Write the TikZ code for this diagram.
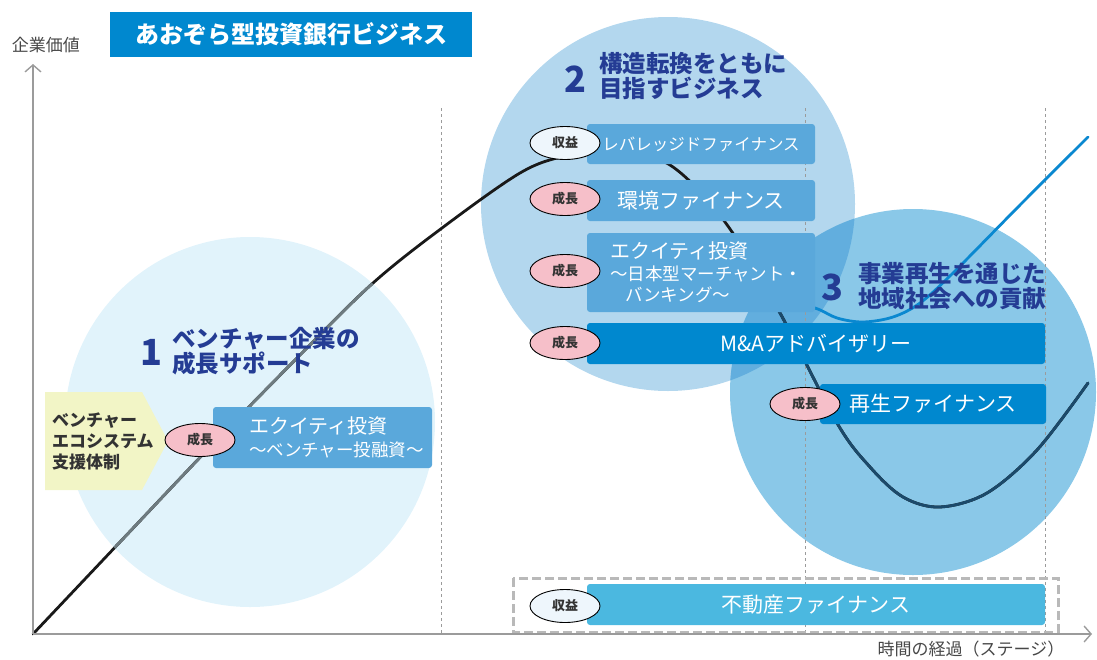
\documentclass[tikz,border=0pt]{standalone}
\usepackage{fontspec}
\setmainfont{Noto Sans CJK JP}
\usetikzlibrary{arrows.meta,shapes.geometric,positioning}

\definecolor{circleone}{HTML}{E1F3FB}
\definecolor{circletwo}{HTML}{B3D7EE}
\definecolor{circlethree}{HTML}{8AC8E8}
\definecolor{circleoverlap}{HTML}{62AEDE}
\definecolor{boxmid}{HTML}{5AA8DB}
\definecolor{boxdark}{HTML}{0088CF}
\definecolor{boxcyan}{HTML}{4BB8E0}
\definecolor{headnavy}{HTML}{243C94}
\definecolor{tagpink}{HTML}{F6BFC9}
\definecolor{tagpale}{HTML}{EEF6FC}
\definecolor{tagyellow}{HTML}{F2F5C6}
\definecolor{axisgray}{HTML}{9B9B9B}
\definecolor{curvegray}{HTML}{6E7B80}
\definecolor{curvenavy}{HTML}{1B4A6B}
\definecolor{curveblue}{HTML}{0A88D0}
\definecolor{textdark}{HTML}{333333}

\tikzset{
  box/.style={rounded corners=3pt, inner sep=0pt, text=white},
  boxtext/.style={text=white, inner sep=0pt, anchor=west, align=left},
  tag/.style={ellipse, draw=black, line width=0.9pt, minimum width=70pt, minimum height=33pt, inner sep=0pt, text=textdark, font=\fontsize{13}{13}\selectfont\bfseries},
  heading/.style={text=headnavy, inner sep=0pt, anchor=west, align=left, font=\fontsize{23.5}{25.5}\selectfont\bfseries},
  bignum/.style={text=headnavy, inner sep=0pt, font=\fontsize{36}{36}\selectfont\bfseries},
  stage/.style={dashed, axisgray, line width=0.8pt},
  axis/.style={axisgray, line width=1.6pt, -{Straight Barb[length=7pt,width=16pt,line width=1.4pt]}},
  curve/.style={line width=2.8pt, line cap=round},
}

\newcommand{\valuecurve}{plot[smooth, tension=0.55] coordinates {(33,634) (120,542) (210,447) (300,355) (373,283) (442,228) (520,173) (565,156) (612,150) (670,165) (725,222) (780,313) (837,423) (870,467) (903,497) (940,507) (987,493) (1037,450) (1088,383)}}

\begin{document}
\begin{tikzpicture}[x=1pt, y=-1pt]
\useasboundingbox (0,0) rectangle (1097,659);

\fill[circleone] (250,422) circle (185pt);
\fill[circletwo] (668,204) circle (187pt);
\fill[circlethree] (913,392) circle (183pt);
\begin{scope}
  \clip (668,204) circle (187pt);
  \fill[circleoverlap] (913,392) circle (183pt);
\end{scope}

\draw[stage] (441,108) -- (441,634);
\draw[stage] (805,108) -- (805,634);
\draw[stage] (1045,108) -- (1045,634);

\draw[curve, black!90] \valuecurve;
\begin{scope}
  \clip (250,422) circle (185pt);
  \draw[curve, curvegray] \valuecurve;
\end{scope}
\begin{scope}
  \clip (913,392) circle (183pt);
  \draw[curve, curvenavy] \valuecurve;
\end{scope}
\draw[curve, curveblue] plot[smooth, tension=0.55] coordinates {(775,298) (815,308) (837,318) (863,322) (893,317) (920,303) (953,273) (1020,205) (1088,137)};

\draw[line width=3pt, axisgray!70, dash pattern=on 9pt off 4pt] (513,578) rectangle (1058,632);

\coordinate (origin) at (33,634);
\coordinate (ytip) at (33,64);
\coordinate (xtip) at (1092,634);
\draw[axis] (origin) -- (ytip);
\draw[axis] (origin) -- (xtip);
\node[text=textdark!90, inner sep=0pt, font=\fontsize{17}{17}\selectfont] (yname) at (46,45) {企業価値};
\node[text=textdark!90, inner sep=0pt, font=\fontsize{17}{17}\selectfont] (xname) at (971,649) {時間の経過（ステージ）};

\node[fill=boxdark, text=white, minimum width=362pt, minimum height=45pt, inner sep=0pt, font=\fontsize{24}{24}\selectfont\bfseries] (title) at (291,34.5) {あおぞら型投資銀行ビジネス};

\node[bignum] (numone) at (151,352) {1};
\node[heading] (headone) at (172,351) {ベンチャー企業の\\成長サポート};
\node[bignum] (numtwo) at (575,79) {2};
\node[heading] (headtwo) at (599,76) {構造転換をともに\\目指すビジネス};
\node[bignum] (numthree) at (832,287) {3};
\node[heading] (headthree) at (858,286) {事業再生を通じた\\地域社会への貢献};

\fill[tagyellow] (45,392) -- (142,392) -- (168,441) -- (142,490) -- (45,490) -- cycle;
\node[text=textdark, inner sep=0pt, anchor=west, align=left, font=\fontsize{17}{21}\selectfont\bfseries] (ecosystem) at (52,441) {ベンチャー\\エコシステム\\支援体制};

\node[box, fill=boxmid, minimum width=219pt, minimum height=61pt] (eqone) at (322.5,437.5) {};
\node[boxtext, right=36pt of eqone.west] (eqonetext) {{\fontsize{20}{20}\selectfont エクイティ投資}\\[6pt]{\fontsize{17.5}{20}\selectfont ～ベンチャー投融資～}};
\node[tag, fill=tagpink] (tagone) at (200,440) {成長};

\node[box, fill=boxmid, minimum width=228pt, minimum height=40pt, font=\fontsize{16.5}{16.5}\selectfont] (lev) at (701,144) {レバレッジドファイナンス};
\node[box, fill=boxmid, minimum width=228pt, minimum height=41pt, font=\fontsize{21}{21}\selectfont] (env) at (701,200.5) {環境ファイナンス};
\node[box, fill=boxmid, minimum width=228pt, minimum height=79pt] (eqtwo) at (701,272.5) {};
\node[boxtext, right=23pt of eqtwo.west] (eqtwotext) {{\fontsize{20}{20}\selectfont エクイティ投資}\\[4pt]{\fontsize{17.5}{20}\selectfont ～日本型マーチャント・}\\[4pt]{\fontsize{17.5}{20}\selectfont \hspace*{15pt}バンキング～}};
\node[box, fill=boxdark, minimum width=458pt, minimum height=41pt, font=\fontsize{21}{21}\selectfont] (ma) at (816,343.5) {M\&Aアドバイザリー};
\node[box, fill=boxdark, minimum width=226pt, minimum height=40pt, font=\fontsize{21}{21}\selectfont] (saisei) at (933,404) {再生ファイナンス};
\node[box, fill=boxcyan, minimum width=458pt, minimum height=41pt, font=\fontsize{21}{21}\selectfont] (realestate) at (816,604.5) {不動産ファイナンス};

\node[tag, fill=tagpale] (taglev) at (565,143) {収益};
\node[tag, fill=tagpink] (tagenv) at (565,199) {成長};
\node[tag, fill=tagpink] (tageq) at (565,271) {成長};
\node[tag, fill=tagpink] (tagma) at (565,343) {成長};
\node[tag, fill=tagpink] (tagsaisei) at (805,404) {成長};
\node[tag, fill=tagpale] (tagrealestate) at (565,606) {収益};
\end{tikzpicture}
\end{document}
